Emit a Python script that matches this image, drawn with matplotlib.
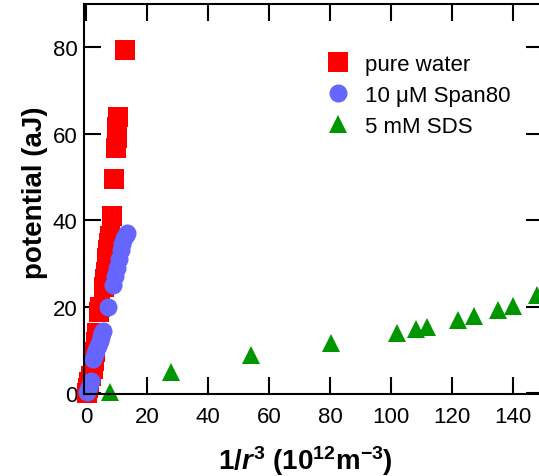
import matplotlib
matplotlib.use('Agg')
import matplotlib.pyplot as plt

# pure water
water_x = [0.3, 0.6, 1.0, 1.4, 2.0, 2.4, 2.7, 3.0, 3.4, 4.0, 4.5, 5.7, 6.0, 6.3,
           6.6, 6.9, 7.2, 7.5, 7.9, 8.25, 8.9, 9.8, 10.0, 10.2, 10.5, 12.8]
water_y = [0.1, 1.2, 2.5, 4.0, 5.5, 7.5, 9.5, 11.8, 14.0, 18.7, 20.0, 24.6, 26.3, 28.0,
           29.7, 31.3, 33.0, 34.7, 36.3, 41.0, 49.5, 56.7, 59.0, 61.5, 63.9, 79.3]

# 10 uM Span80
span_x = [0.3, 1.0, 1.4, 2.3, 2.8, 3.3, 3.8, 4.3, 4.8, 5.2, 5.6, 7.2, 8.85, 9.4,
          10.0, 10.6, 11.2, 11.8, 12.4, 13.0, 13.3]
span_y = [0.15, 1.5, 2.8, 7.8, 9.0, 10.0, 11.0, 12.0, 13.0, 13.8, 14.4, 20.0, 25.1, 27.0,
          29.0, 31.0, 33.0, 34.5, 35.8, 36.6, 37.1]

# 5 mM SDS
sds_x = [7.8, 27.7, 54.0, 80.2, 102.1, 108.2, 111.9, 122.1, 127.3, 135.2, 140.2, 148.1]
sds_y = [0.3, 5.0, 8.8, 11.7, 13.9, 14.8, 15.2, 16.9, 17.8, 19.3, 20.2, 22.8]

plt.rcParams['font.family'] = ['Liberation Sans', 'DejaVu Sans']
plt.rcParams['mathtext.fontset'] = 'custom'
plt.rcParams['mathtext.rm'] = 'Liberation Sans:bold'
plt.rcParams['mathtext.bf'] = 'Liberation Sans:bold'
plt.rcParams['mathtext.it'] = 'Liberation Sans:bold:italic'

fig = plt.figure(figsize=(5.39, 4.77), dpi=100)
ax = fig.add_axes([84.3 / 539, 82 / 477, (543 - 84.3) / 539, 390 / 477])

ax.plot(water_x, water_y, 's', color='#ff0000', ms=13.7, mew=0, label='pure water', clip_on=False)
ax.plot(span_x, span_y, 'o', color='#6666ff', ms=13, mew=0, label='10 μM Span80', clip_on=False)
ax.plot(sds_x, sds_y, '^', color='#009600', ms=12.5, mew=0, label='5 mM SDS', clip_on=False)

ax.set_xlim(-0.7, 150)
ax.set_ylim(-0.2, 90)
ax.set_xticks(range(0, 141, 20))
ax.set_yticks(range(0, 81, 20))

for s in ax.spines.values():
    s.set_linewidth(1.5)
ax.tick_params(direction='in', length=12.5, width=1.5, labelsize=16,
               top=True, right=True)
ax.tick_params(axis='x', pad=9)
ax.tick_params(axis='y', pad=5)

ax.set_xlabel(r'1/$\mathit{r}^{3}$ (10$^{12}$m$^{-3}$)', fontsize=20, fontweight='bold')
ax.set_ylabel('potential (aJ)', fontsize=20, fontweight='bold')
ax.xaxis.set_label_coords(0.482, -0.125)
ax.yaxis.set_label_coords(-0.08, 0.518)

ax.legend(loc='upper left', bbox_to_anchor=(0.485, 0.895), frameon=False, fontsize=16,
          handletextpad=0.23, labelspacing=0.45, borderaxespad=0)

fig.savefig('out.png', dpi=100)
plt.close()
